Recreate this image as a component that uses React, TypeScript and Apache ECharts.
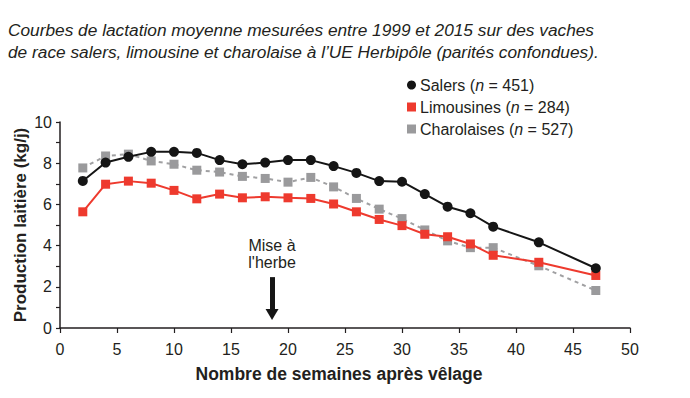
import React, { useEffect, useRef } from "react";
import * as echarts from "echarts";

const weeks = [2, 4, 6, 8, 10, 12, 14, 16, 18, 20, 22, 24, 26, 28, 30, 32, 34, 36, 38, 42, 47];
const salers = [7.14, 8.03, 8.31, 8.55, 8.55, 8.5, 8.15, 7.95, 8.03, 8.15, 8.15, 7.86, 7.53, 7.13, 7.1, 6.5, 5.89, 5.57, 4.92, 4.16, 2.9];
const limousines = [5.64, 6.98, 7.13, 7.03, 6.68, 6.27, 6.5, 6.32, 6.37, 6.32, 6.29, 6.02, 5.64, 5.27, 4.97, 4.55, 4.43, 4.08, 3.53, 3.19, 2.55];
const charolaises = [7.77, 8.35, 8.44, 8.11, 7.95, 7.66, 7.57, 7.36, 7.26, 7.08, 7.31, 6.85, 6.29, 5.77, 5.31, 4.76, 4.23, 3.9, 3.9, 3.02, 1.82];

const seriesNames = ["Salers", "Limousines", "Charolaises"];
const seriesCounts = [451, 284, 527];
const titleLines = [
  "Courbes de lactation moyenne mesurées entre 1999 et 2015 sur des vaches",
  "de race salers, limousine et charolaise à l’UE Herbipôle (parités confondues).",
];
const annotationText = "Mise à\nl'herbe";
const annotationWeek = 18.6;

const FONT = "'Liberation Sans', Arial, sans-serif";
const TXT = "#231f20";

export default function App() {
  const ref = useRef<HTMLDivElement>(null);
  useEffect(() => {
    if (!ref.current) return;
    const chart = echarts.init(ref.current, undefined, { renderer: "svg" });
    const pairs = (ys: number[]) => weeks.map((w, i) => [w, ys[i]]);
    chart.setOption({
      animation: false,
      textStyle: { fontFamily: FONT },
      title: {
        text: titleLines.join("\n"),
        left: 3,
        top: 14,
        textStyle: {
          fontFamily: FONT,
          fontStyle: "italic",
          fontWeight: "normal",
          fontSize: 17.3,
          lineHeight: 22,
          color: TXT,
        },
      },
      legend: {
        orient: "vertical",
        left: 402,
        top: 72,
        itemWidth: 9,
        itemHeight: 9,
        itemGap: 6,
        data: [
          { name: seriesNames[0], icon: "circle" },
          { name: seriesNames[1], icon: "rect" },
          { name: seriesNames[2], icon: "rect" },
        ],
        formatter: (name: string) => {
          const i = seriesNames.indexOf(name);
          return `${name} ({i|n} = ${seriesCounts[i]})`;
        },
        textStyle: {
          fontFamily: FONT,
          fontSize: 16,
          color: TXT,
          padding: [0, 0, 0, -1],
          rich: { i: { fontStyle: "italic", fontSize: 16, fontFamily: FONT, color: TXT } },
        },
      },
      grid: { left: 60, right: 60, top: 122, bottom: 70 },
      xAxis: {
        type: "value",
        min: 0,
        max: 50,
        interval: 5,
        name: "Nombre de semaines après vêlage",
        nameLocation: "middle",
        nameGap: 37,
        nameTextStyle: { fontFamily: FONT, fontSize: 17.5, fontWeight: "bold", color: TXT, padding: [0, 12, 0, 0] },
        axisLine: { lineStyle: { color: "#231f20", width: 1.5 } },
        axisTick: { show: true, length: 5, lineStyle: { color: "#231f20", width: 1.2 } },
        axisLabel: { fontSize: 16, color: TXT, margin: 13 },
        splitLine: { show: false },
      },
      yAxis: {
        type: "value",
        min: 0,
        max: 10,
        interval: 2,
        name: "Production laitière (kg/j)",
        nameLocation: "middle",
        nameGap: 31,
        nameMoveOverlap: false,
        nameTextStyle: { fontFamily: FONT, fontSize: 17, fontWeight: "bold", color: TXT },
        axisLine: { show: true, lineStyle: { color: "#231f20", width: 1.5 } },
        axisTick: { show: true, length: 4, lineStyle: { color: "#231f20", width: 1.2 } },
        minorTick: { show: true, splitNumber: 2, length: 4, lineStyle: { color: "#231f20", width: 1.2 } },
        axisLabel: { fontSize: 16, color: TXT, margin: 8 },
        splitLine: { show: false },
      },
      series: [
        {
          name: seriesNames[2],
          type: "line",
          data: pairs(charolaises),
          symbol: "rect",
          symbolSize: 9,
          color: "#9a9a9c",
          lineStyle: { color: "#a0a0a2", width: 2, type: [4, 4] },
          itemStyle: { color: "#9a9a9c" },
          z: 2,
        },
        {
          name: seriesNames[1],
          type: "line",
          data: pairs(limousines),
          symbol: "rect",
          symbolSize: 9,
          color: "#ee3a2e",
          lineStyle: { color: "#ee3a2e", width: 2 },
          itemStyle: { color: "#ee3a2e" },
          z: 3,
        },
        {
          name: seriesNames[0],
          type: "line",
          data: pairs(salers),
          symbol: "circle",
          symbolSize: 10,
          color: "#151515",
          lineStyle: { color: "#151515", width: 2 },
          itemStyle: { color: "#151515" },
          z: 4,
        },
        {
          name: "annotation",
          type: "line",
          data: [],
          silent: true,
          markLine: {
            silent: true,
            symbol: ["none", "triangle"],
            symbolSize: [13, 11],
            label: { show: false },
            lineStyle: { color: "#151515", width: 5, type: "solid" },
            data: [[{ coord: [annotationWeek, 2.47] }, { coord: [annotationWeek, 0.65] }]],
          },
          markPoint: {
            silent: true,
            symbol: "rect",
            symbolSize: 1,
            itemStyle: { color: "rgba(0,0,0,0)" },
            label: {
              show: true,
              position: "inside",
              formatter: annotationText,
              fontSize: 16,
              lineHeight: 17,
              color: TXT,
              fontFamily: FONT,
              align: "center",
            },
            data: [{ coord: [annotationWeek, 3.6] }],
          },
        },
      ],
    });
    return () => chart.dispose();
  }, []);
  return (
    <div
      ref={ref}
      style={{ position: "absolute", left: 0, top: 0, width: 690, height: 398, background: "#fff" }}
    />
  );
}
